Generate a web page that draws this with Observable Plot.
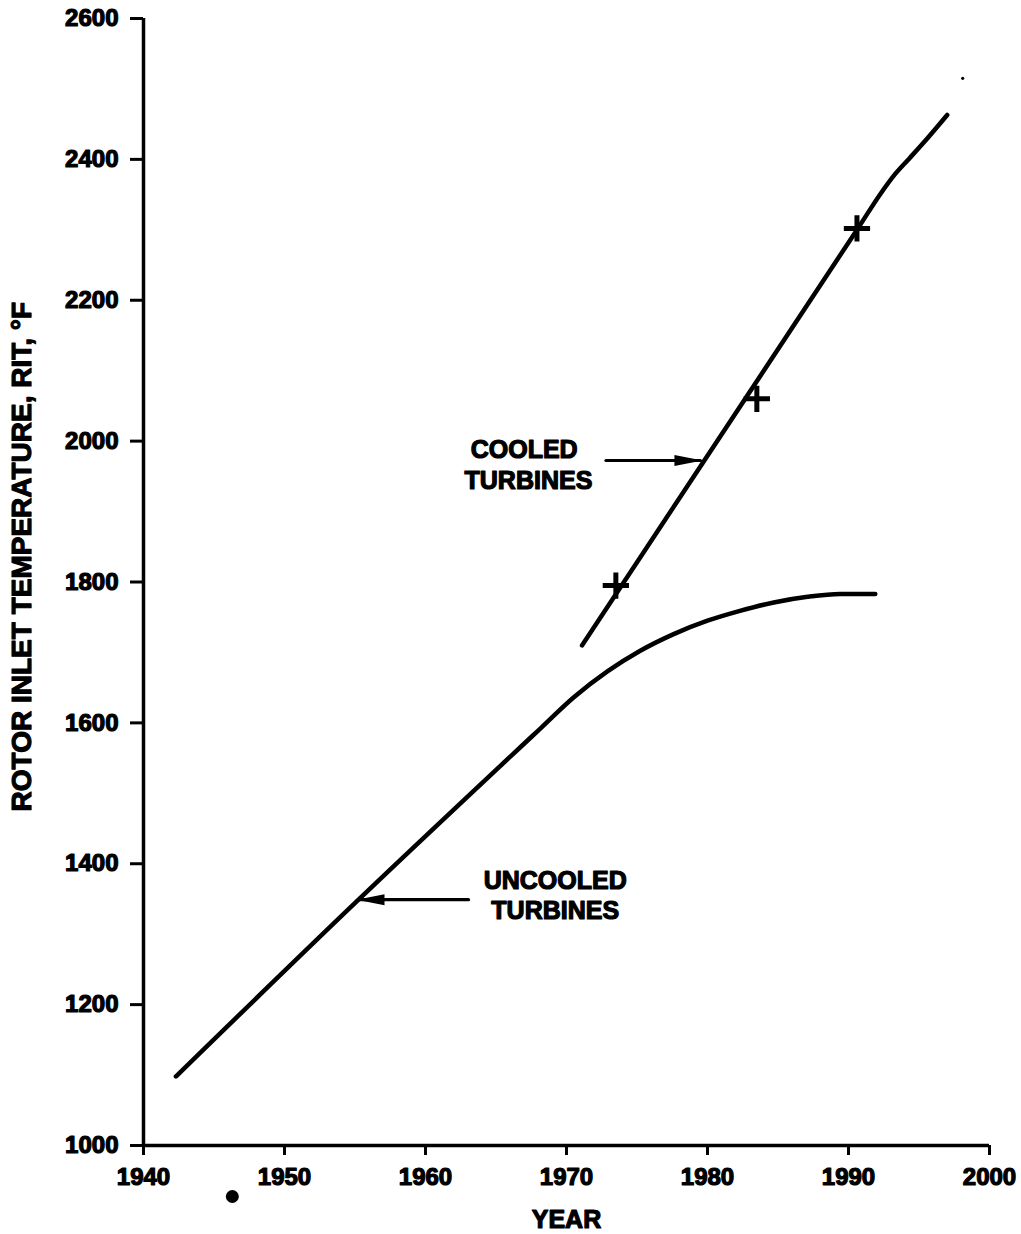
<!DOCTYPE html>
<html>
<head>
<meta charset="utf-8">
<script src="https://cdn.jsdelivr.net/npm/d3@7"></script>
<script src="https://cdn.jsdelivr.net/npm/@observablehq/plot@0.6"></script>
<style>
  html, body { margin: 0; padding: 0; background: #fff; }
</style>
</head>
<body>
<div id="chart"></div>
<script>
// ---- data ----
const xTicks = [1940, 1950, 1960, 1970, 1980, 1990, 2000];
const yTicks = [1000, 1200, 1400, 1600, 1800, 2000, 2200, 2400, 2600];

const uncooledYear = [1942.3, 1955.25, 1968.2, 1970.5, 1972.9, 1975.2, 1977.6, 1980.0, 1982.3, 1984.7, 1987.1, 1989.4, 1991.9];
const uncooledRIT  = [1098,   1349,    1593,   1636,   1673,   1702,   1726,   1745,   1759,   1771,   1779,   1783,   1783];

const cooledYear = [1971.1, 1990.7, 1992.3, 1993.3, 1994.3, 1995.6, 1997.0];
const cooledRIT  = [1710,   2303,   2352,   2379,   2401,   2430,   2463];

const testYear = [1973.5, 1983.5, 1990.6];
const testRIT  = [1795,   2060,   2302];

const labelText = ["COOLED", "TURBINES", "UNCOOLED", "TURBINES"];
const labelYear = [1967.0, 1967.3, 1969.2, 1969.2];
const labelRIT  = [1987.5, 1943.4, 1375.5, 1333.6];

const arrowFromYear = [1972.8, 1963.05];
const arrowToYear   = [1979.5, 1955.25];
const arrowRIT      = [1972.5, 1349];
const arrowDir      = [0, 180];

const speckYear = [1946.3, 1998.1];
const speckRIT  = [927.6, 2515];
const speckSize = [6.5, 1.6];

const xTitle = "YEAR";
const yTitle = "ROTOR INLET TEMPERATURE, RIT, \u00B0F";

// ---- tables built from arrays ----
const uncooled = uncooledYear.map((y, i) => ({year: y, rit: uncooledRIT[i]}));
const cooled = cooledYear.map((y, i) => ({year: y, rit: cooledRIT[i]}));
const tests = testYear.map((y, i) => ({year: y, rit: testRIT[i]}));
const labels = labelText.map((t, i) => ({text: t, year: labelYear[i], rit: labelRIT[i]}));
const arrows = arrowFromYear.map((y, i) => ({x1: y, x2: arrowToYear[i], rit: arrowRIT[i], dir: arrowDir[i]}));
const specks = speckYear.map((y, i) => ({year: y, rit: speckRIT[i], r: speckSize[i]}));

// elongated filled arrow head, tip at origin pointing +x
const arrowHead = {
  draw(context) {
    context.moveTo(2, 0);
    context.lineTo(-26, -5.5);
    context.lineTo(-26, 5.5);
    context.closePath();
  }
};

const FONT = "Liberation Sans, Arial, Helvetica, sans-serif";

const chart = Plot.plot({
  width: 1021,
  height: 1234,
  marginLeft: 143,
  marginRight: 32,
  marginTop: 18,
  marginBottom: 89,
  x: {domain: [1940, 2000]},
  y: {domain: [1000, 2600]},
  r: {type: "identity"},
  style: {fontFamily: FONT, fontWeight: "bold", color: "black", background: "white"},
  marks: [
    Plot.axisX({ticks: xTicks, tickFormat: d => String(d), tickSize: 10, tickPadding: 12, strokeWidth: 3, fontSize: 24, textStroke: "black", textStrokeWidth: 1.2, label: null}),
    Plot.axisY({ticks: yTicks, tickFormat: d => String(d), tickSize: 13, tickPadding: 12, strokeWidth: 3, fontSize: 24, textStroke: "black", textStrokeWidth: 1.2, label: null}),
    Plot.ruleX([1940], {strokeWidth: 3.5, stroke: "black"}),
    Plot.ruleY([1000], {strokeWidth: 3.5, stroke: "black"}),
    Plot.line(uncooled, {x: "year", y: "rit", curve: "monotone-x", stroke: "black", strokeWidth: 4.5, strokeLinecap: "round"}),
    Plot.line(cooled, {x: "year", y: "rit", curve: "monotone-x", stroke: "black", strokeWidth: 4.5, strokeLinecap: "round"}),
    Plot.dot(tests, {x: "year", y: "rit", symbol: "plus", r: 8.5, stroke: "black", strokeWidth: 5}),
    Plot.link(arrows, {x1: "x1", x2: "x2", y1: "rit", y2: "rit", stroke: "black", strokeWidth: 3.2, strokeLinecap: "round"}),
    Plot.dot(arrows, {x: "x2", y: "rit", symbol: arrowHead, rotate: "dir", fill: "black", stroke: "none"}),
    Plot.text(labels, {x: "year", y: "rit", text: "text", fontSize: 25, lineAnchor: "middle", fill: "black", stroke: "black", strokeWidth: 1.2}),
    Plot.dot(specks, {x: "year", y: "rit", r: "r", fill: "black", stroke: "none"}),
    Plot.text([{t: xTitle, x: 1970}], {x: "x", text: "t", frameAnchor: "bottom", lineAnchor: "middle", dy: 74, fontSize: 25, fill: "black", stroke: "black", strokeWidth: 1.2}),
    Plot.text([{t: yTitle, v: 1836}], {y: "v", text: "t", frameAnchor: "left", textAnchor: "middle", lineAnchor: "middle", dx: -121, rotate: -90, fontSize: 28, fill: "black", stroke: "black", strokeWidth: 1.1})
  ]
});
document.getElementById("chart").appendChild(chart);
</script>
</body>
</html>
